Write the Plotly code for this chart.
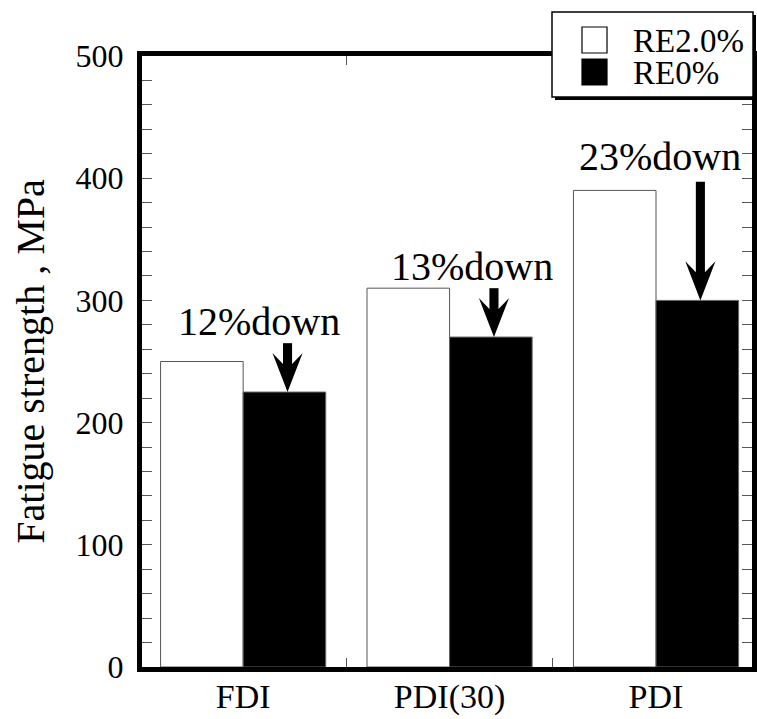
import plotly.graph_objects as go

# ---- data ----
categories = ["FDI", "PDI(30)", "PDI"]
re20 = [250, 310, 390]
re0 = [225, 270, 300]
down_labels = ["12%down", "13%down", "23%down"]
series_names = ["RE2.0%", "RE0%"]
y_tickvals = list(range(0, 501, 20))
y_ticktext = [str(v) if v % 100 == 0 else "" for v in y_tickvals]

FONT = "Liberation Serif"
W, H = 757, 719
ML, MR, MT, MB = 142, 5, 56, 52
PW, PH = W - ML - MR, H - MT - MB


def P(px, py):
    """pixel -> paper coords"""
    return (px - ML) / PW, (H - MB - py) / PH


fig = go.Figure()
fig.add_trace(go.Bar(x=categories, y=re20, name=series_names[0],
                     marker=dict(color="white", line=dict(color="#555", width=1)),
                     showlegend=False))
fig.add_trace(go.Bar(x=categories, y=re0, name=series_names[1],
                     marker=dict(color="black", line=dict(color="#666", width=1)),
                     showlegend=False))

shapes = []
annotations = []

# arrows + labels
arrow_dx = 0.215          # arrow x offset from category centre
arrow_tail = [40, 40, 97]  # arrow length above tip (value units)
label_pos = [(0.075, 33), (0.11, 18), (0.02, 28)]  # (dx, dy above RE2.0 bar)
hw, sw = 0.073, 0.022
head_len, notch = 32, 23
for i, cat in enumerate(categories):
    xc = i + arrow_dx
    tip = re0[i]
    tail = tip + arrow_tail[i]
    shapes.append(dict(type="rect", xref="x", yref="y",
                       x0=xc - sw, x1=xc + sw, y0=tip + notch - 1, y1=tail,
                       fillcolor="black", line=dict(width=0), layer="above"))
    path = (f"M{xc},{tip} L{xc - hw},{tip + head_len} L{xc - sw},{tip + notch} "
            f"L{xc + sw},{tip + notch} L{xc + hw},{tip + head_len} Z")
    shapes.append(dict(type="path", xref="x", yref="y", path=path,
                       fillcolor="black", line=dict(width=0), layer="above"))
    dx, dy = label_pos[i]
    annotations.append(dict(x=i + dx, y=re20[i] + dy, xref="x", yref="y",
                            text=down_labels[i], showarrow=False,
                            font=dict(family=FONT, size=40, color="black"),
                            xanchor="center", yanchor="middle"))

# manual legend with shadow
x0, y0 = P(555, 15)
x1, y1 = P(756, 100)
shapes.append(dict(type="rect", xref="paper", yref="paper", x0=x0, x1=x1, y0=y1, y1=y0,
                   fillcolor="black", line=dict(width=0), layer="above"))
x0, y0 = P(552, 12)
x1, y1 = P(753, 97)
shapes.append(dict(type="rect", xref="paper", yref="paper", x0=x0, x1=x1, y0=y1, y1=y0,
                   fillcolor="white", line=dict(color="black", width=1.5), layer="above"))
sym_colors = ["white", "black"]
sym_y = [(27, 53), (59, 85)]
for k, name in enumerate(series_names):
    a0, b0 = P(582, sym_y[k][0])
    a1, b1 = P(607, sym_y[k][1])
    shapes.append(dict(type="rect", xref="paper", yref="paper", x0=a0, x1=a1, y0=b1, y1=b0,
                       fillcolor=sym_colors[k], line=dict(color="black", width=1.2),
                       layer="above"))
    tx, ty = P(631, (sym_y[k][0] + sym_y[k][1]) / 2 + 1)
    annotations.append(dict(x=tx, y=ty, xref="paper", yref="paper", text=name,
                            showarrow=False, xanchor="left", yanchor="middle",
                            font=dict(family=FONT, size=33, color="black")))

fig.update_layout(
    width=W, height=H,
    margin=dict(l=ML, r=MR, t=MT, b=MB, autoexpand=False),
    paper_bgcolor="white", plot_bgcolor="white",
    barmode="group", bargap=0.2, bargroupgap=0,
    font=dict(family=FONT, color="black"),
    shapes=shapes, annotations=annotations,
    xaxis=dict(type="category", range=[-0.49, 2.465], automargin=False,
               showline=True, linewidth=5, linecolor="black", mirror="ticks",
               ticks="inside", tickson="boundaries", ticklen=9, tickwidth=1,
               tickcolor="#555", showgrid=False, zeroline=False,
               ticklabelstandoff=-5,
               tickfont=dict(family=FONT, size=34, color="black")),
    yaxis=dict(range=[0, 500], tickvals=y_tickvals, ticktext=y_ticktext,
               automargin=False,
               showline=True, linewidth=5, linecolor="black", mirror="ticks",
               ticks="inside", ticklen=10, tickwidth=1, tickcolor="#555",
               showgrid=False, zeroline=False, ticklabelstandoff=7,
               tickfont=dict(family=FONT, size=32, color="black"),
               title=dict(text="Fatigue strength , MPa", standoff=20,
                          font=dict(family=FONT, size=40, color="black"))),
)

fig.write_html("out.html", config={"displayModeBar": False},
               post_script="document.body.style.margin='0';document.body.style.overflow='hidden';")
